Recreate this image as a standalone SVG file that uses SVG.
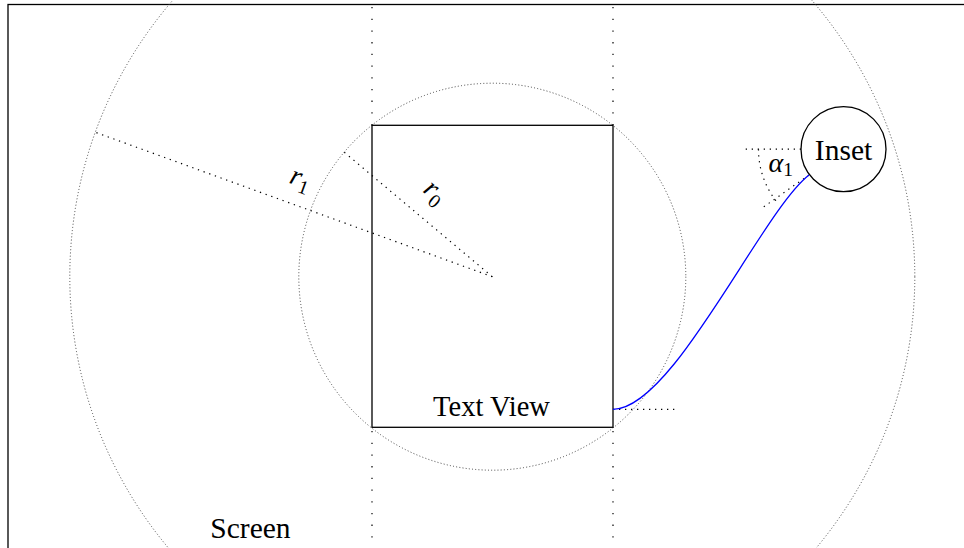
<svg xmlns="http://www.w3.org/2000/svg" width="964" height="548" viewBox="0 0 964 548">
<style>
.lbl{font-family:"Liberation Serif","Times New Roman",serif;fill:#000}
.circ{fill:none;stroke:#444;stroke-width:1;stroke-dasharray:1 2.2}
.dot{fill:none;stroke:#000;stroke-width:1.2;stroke-dasharray:1.3 4.7}
.vdot{fill:none;stroke:#000;stroke-width:1.2;stroke-dasharray:1.3 10.4}
.solid{fill:none;stroke:#000;stroke-width:1.3}
</style>
<rect width="964" height="548" fill="#fff"/>
<g id="screen">
<rect x="8" y="4.5" width="1000" height="600" class="solid"/>
<text class="lbl" x="250.5" y="537.5" font-size="29.5" text-anchor="middle">Screen</text>
</g>
<g id="guides">
<circle cx="492.3" cy="276.7" r="422.5" class="circ"/>
<circle cx="492.3" cy="276.7" r="193.5" class="circ"/>
<line x1="372" y1="7" x2="372" y2="125" class="vdot"/>
<line x1="613" y1="7" x2="613" y2="125" class="vdot"/>
<line x1="372" y1="431" x2="372" y2="548" class="vdot"/>
<line x1="613" y1="431" x2="613" y2="548" class="vdot"/>
<line x1="492.3" y1="276.7" x2="96" y2="132.5" class="dot"/>
<line x1="492.3" y1="276.7" x2="344.3" y2="152.3" class="dot"/>
<text class="lbl" transform="translate(298,186) rotate(20)" font-size="28" text-anchor="middle"><tspan font-style="italic">r</tspan><tspan font-size="19.5" dy="6">1</tspan></text>
<text class="lbl" transform="translate(430,198) rotate(40)" font-size="28" text-anchor="middle"><tspan font-style="italic">r</tspan><tspan font-size="19.5" dy="6">0</tspan></text>
</g>
<g id="textview">
<rect x="372" y="125.3" width="241" height="302" class="solid"/>
<text class="lbl" x="491.5" y="416" font-size="28.5" text-anchor="middle">Text View</text>
</g>
<g id="inset">
<circle cx="843.5" cy="149.2" r="42.5" fill="#fff" stroke="#000" stroke-width="1.3"/>
<text class="lbl" x="843.5" y="160" font-size="29.5" text-anchor="middle">Inset</text>
</g>
<g id="connectors">
<line x1="613" y1="409.3" x2="675" y2="409.3" class="dot"/>
<line x1="801" y1="149.2" x2="741" y2="149.2" class="dot"/>
<line x1="809" y1="175" x2="760" y2="209.5" class="dot"/>
<path d="M758.5,149.2 A85,85 0 0 0 776,201" class="dot"/>
<path d="M613,409.3 C673,409.3 761.5,211.7 809,175" fill="none" stroke="#0000ff" stroke-width="1.3"/>
<text class="lbl" x="768.5" y="172" font-size="28"><tspan font-style="italic">α</tspan><tspan font-size="19.5" dy="4">1</tspan></text>
</g>
</svg>
